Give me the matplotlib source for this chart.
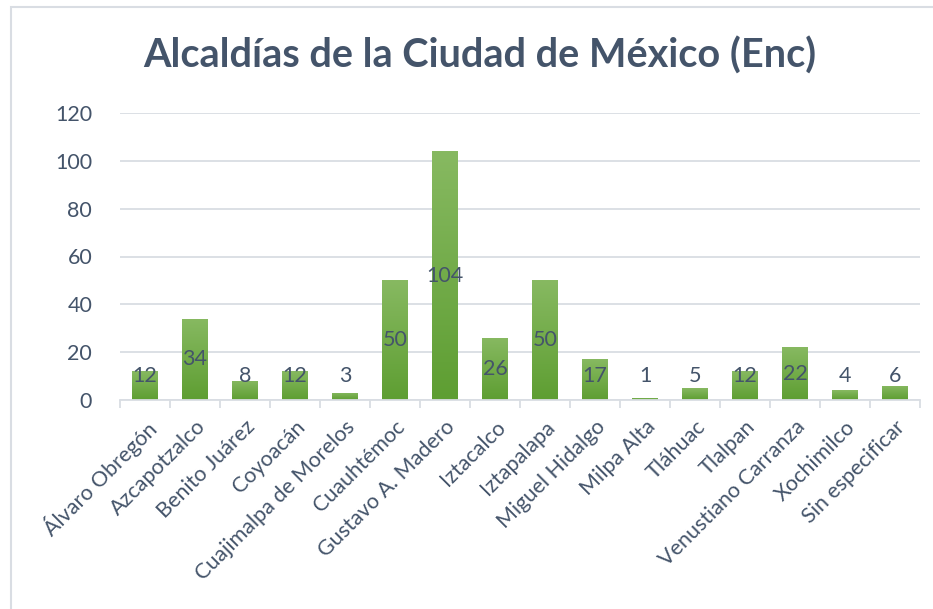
import numpy as np
import matplotlib.pyplot as plt
from matplotlib.patches import Rectangle
from matplotlib.colors import LinearSegmentedColormap

# Datos de la gráfica
alcaldias = ["Álvaro Obregón", "Azcapotzalco", "Benito Juárez", "Coyoacán",
             "Cuajimalpa de Morelos", "Cuauhtémoc", "Gustavo A. Madero",
             "Iztacalco", "Iztapalapa", "Miguel Hidalgo", "Milpa Alta",
             "Tláhuac", "Tlalpan", "Venustiano Carranza", "Xochimilco",
             "Sin especificar"]
encuestas = [12, 34, 8, 12, 3, 50, 104, 26, 50, 17, 1, 5, 12, 22, 4, 6]
y_ticks = [0, 20, 40, 60, 80, 100, 120]

texto = "#44546A"
gris = "#D9DDE3"

plt.rcParams['font.family'] = ['Lato', 'DejaVu Sans']

fig = plt.figure(figsize=(9.33, 6.09), dpi=100)
ax = fig.add_axes([120 / 933, 1 - 400 / 609, 800 / 933, 287 / 609])

x = np.arange(len(alcaldias))
ancho = 0.52
barras = ax.bar(x, encuestas, width=ancho, color="#70AD47", zorder=2)

# Degradado verde en cada barra
verde = LinearSegmentedColormap.from_list("verde", ["#5E9E32", "#87B961"])
grad = np.linspace(0, 1, 100).reshape(-1, 1)
for b in barras:
    x0, y0 = b.get_x(), b.get_y()
    w, h = b.get_width(), b.get_height()
    im = ax.imshow(grad, cmap=verde, extent=[x0, x0 + w, y0, y0 + h],
                   origin="lower", aspect="auto", zorder=2)
    im.set_clip_path(b)
    b.set_facecolor("none")

# Etiquetas de datos (centradas, con altura mínima)
for i, v in enumerate(encuestas):
    ax.text(i, max(v / 2, 10), str(v), ha="center", va="center",
            fontsize=15.5, color=texto, zorder=3)

ax.set_xlim(-0.5, len(alcaldias) - 0.5)
ax.set_ylim(0, 120)
ax.set_yticks(y_ticks)
ax.set_yticklabels([str(t) for t in y_ticks], fontsize=15.5, color=texto)
ax.yaxis.grid(True, color=gris, linewidth=1.3, zorder=0)
ax.tick_params(axis="y", length=0, pad=20)

ax.set_xticks(x)
ax.set_xticklabels(alcaldias, rotation=45, ha="right", rotation_mode="anchor",
                   fontsize=15.5, color=texto)
ax.tick_params(axis="x", length=0, pad=12)
# marcas en los límites de categoría
ax.set_xticks(np.arange(len(alcaldias) + 1) - 0.5, minor=True)
ax.tick_params(axis="x", which="minor", length=6, color=gris, width=1.3)

for s in ["top", "right", "left"]:
    ax.spines[s].set_visible(False)
ax.spines["bottom"].set_color(gris)
ax.spines["bottom"].set_linewidth(1.3)
ax.set_axisbelow(True)

fig.text(480 / 933, 1 - 56 / 609, "Alcaldías de la Ciudad de México (Enc)",
         ha="center", va="center", fontsize=28.5, fontweight="bold", color=texto)

# borde del área del gráfico
fig.patches.append(Rectangle((11 / 933, -0.1), 1.1, 1 - 7 / 609 + 0.1,
                             transform=fig.transFigure, fill=False,
                             edgecolor=gris, linewidth=1.5))

fig.savefig("out.png", dpi=100)
